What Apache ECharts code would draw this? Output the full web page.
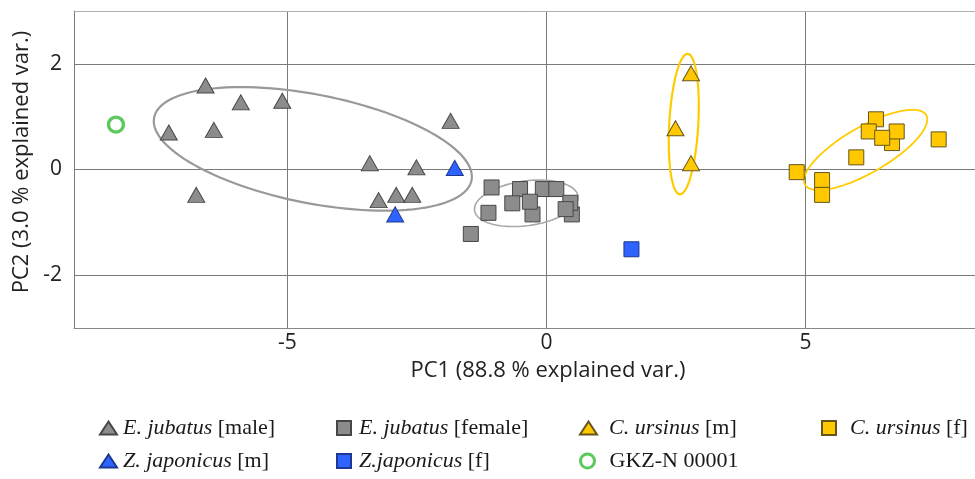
<!DOCTYPE html>
<html>
<head>
<meta charset="utf-8">
<script src="https://cdn.jsdelivr.net/npm/echarts@6/dist/echarts.min.js"></script>
<style>html,body{margin:0;padding:0;background:#fff;}#c{width:975px;height:479px;}</style>
</head>
<body>
<div id="c"></div>
<script>
// ---- data ----
const ejMaleX = [-6.58, -5.90, -5.10, -7.29, -6.42, -1.85, -6.76, -3.41, -2.51, -3.24, -2.90, -2.59];
const ejMaleY = [1.59, 1.27, 1.30, 0.70, 0.75, 0.92, -0.48, 0.12, 0.04, -0.58, -0.48, -0.48];
const ejFemaleX = [-1.06, -0.51, -0.07, 0.19, -0.27, -0.66, -0.32, -1.12, -1.46, 0.49, 0.46, 0.37];
const ejFemaleY = [-0.34, -0.37, -0.37, -0.37, -0.85, -0.64, -0.61, -0.82, -1.22, -0.85, -0.63, -0.75];
const cuMaleX = [2.79, 2.49, 2.79];
const cuMaleY = [1.82, 0.78, 0.12];
const cuFemaleX = [4.83, 5.32, 5.32, 5.98, 6.36, 6.67, 6.76, 6.22, 6.48, 7.57];
const cuFemaleY = [-0.05, -0.20, -0.48, 0.23, 0.95, 0.50, 0.72, 0.72, 0.60, 0.57];
const zjMaleX = [-1.77, -2.92];
const zjMaleY = [0.03, -0.85];
const zjFemaleX = [1.64];
const zjFemaleY = [-1.51];
const gkzX = [-8.31];
const gkzY = [0.85];
// ellipses: [centerX, centerY, halfWidthX, halfHeightY, correlation]
const ellipseEjMale = [-4.51, 0.39, 3.07, 1.17, -0.45];
const ellipseEjFemale = [-0.39, -0.64, 1.00, 0.44, 0.25];
const ellipseCuMale = [2.65, 0.86, 0.29, 1.33, 0.25];
const ellipseCuFemale = [6.16, 0.37, 1.19, 0.76, 0.76];
const xTicks = [-5, 0, 5];
const yTicks = [-2, 0, 2];

const names = {
  ejm: 'E. jubatus [male]', ejf: 'E. jubatus [female]',
  cum: 'C. ursinus [m]', cuf: 'C. ursinus [f]',
  zjm: 'Z. japonicus [m]', zjf: 'Z.japonicus [f]',
  gkz: 'GKZ-N 00001'
};

const zip = (xs, ys) => xs.map((x, i) => [x, ys[i]]);
const GRAY = '#8c8c8c', GRAYB = '#474747';
const YEL = '#ffc800', YELB = '#65551c';
const BLUE = '#2e63ff', BLUEB = '#1c3890';
const GREEN = '#5cc95c';

function ellipseSeries(params, color, width) {
  return {
    type: 'custom', silent: true, z: 1,
    data: [params],
    encode: { x: 0, y: 1 },
    renderItem: function (p, api) {
      const cx = api.value(0), cy = api.value(1), hw = api.value(2), hh = api.value(3), r = api.value(4);
      const s = Math.sqrt(1 - r * r);
      const pts = [];
      for (let k = 0; k <= 120; k++) {
        const t = k / 120 * Math.PI * 2;
        pts.push(api.coord([cx + hw * Math.cos(t), cy + hh * (r * Math.cos(t) + s * Math.sin(t))]));
      }
      return { type: 'polyline', shape: { points: pts }, style: { fill: null, stroke: color, lineWidth: width } };
    }
  };
}

const serif = 'Liberation Serif';
const legendRich = {
  i: { fontFamily: serif, fontStyle: 'italic', fontSize: 22, color: '#1a1a1a', lineHeight: 22 },
  n: { fontFamily: serif, fontSize: 22, color: '#1a1a1a', lineHeight: 22 }
};
function legendFmt(name) {
  const k = name.indexOf(' [');
  if (k < 0) return '{n|' + name + '}';
  return '{i|' + name.slice(0, k) + '}{n| ' + name.slice(k + 1) + '}';
}
function mkLegend(item, left, top, w, h, pad) {
  return {
    data: [item], orient: 'horizontal', left: left, top: top, padding: 0,
    itemWidth: w, itemHeight: h, selectedMode: false,
    formatter: legendFmt,
    textStyle: { rich: legendRich, padding: [0, 0, 0, pad] }
  };
}

const sans = 'Open Sans';
const ROW1 = 417, ROW2 = 450;
const mk = (name, symbol, size, xs, ys, fill, border) => ({
  name: name, type: 'scatter', symbol: symbol, symbolSize: size, z: 3, data: zip(xs, ys),
  itemStyle: { color: fill, borderColor: border, borderWidth: 1, opacity: 1 }
});
const option = {
  animation: false,
  grid: { left: 74, top: 11, right: -2, bottom: 151, outerBoundsMode: 'none', containLabel: false },
  xAxis: [{
    type: 'value', min: -9.12, max: 8.31, splitNumber: 4,
    axisLine: { show: true, onZero: false, lineStyle: { color: '#888', width: 1 } },
    axisTick: { show: false },
    axisLabel: { color: '#222', fontFamily: sans, fontSize: 21, margin: 5,
      formatter: v => (xTicks.some(t => Math.abs(t - v) < 1e-6) ? String(v) : '') },
    splitLine: { show: true, lineStyle: { color: '#7a7a7a', width: 1 } },
    name: 'PC1 (88.8 % explained var.)', nameLocation: 'middle', nameGap: 32,
    nameTextStyle: { color: '#222', fontFamily: sans, fontSize: 22, padding: [0, 0, 0, 45] }
  }, {
    type: 'value', position: 'top', min: -9.12, max: 8.31,
    axisLine: { show: true, onZero: false, lineStyle: { color: '#b0b0b0', width: 1 } },
    axisTick: { show: false }, axisLabel: { show: false }, splitLine: { show: false }
  }],
  yAxis: {
    type: 'value', min: -3, max: 3, splitNumber: 3,
    axisLine: { show: true, onZero: false, lineStyle: { color: '#7a7a7a', width: 1 } },
    axisTick: { show: false },
    axisLabel: { color: '#222', fontFamily: sans, fontSize: 21, margin: 12,
      formatter: v => (yTicks.some(t => Math.abs(t - v) < 1e-6) ? String(v) : '') },
    splitLine: { show: true, lineStyle: { color: '#7a7a7a', width: 1 } },
    name: 'PC2 (3.0 % explained var.)', nameLocation: 'middle', nameGap: 35,
    nameTextStyle: { color: '#222', fontFamily: sans, fontSize: 22, padding: [0, 0, 0, 15] }
  },
  legend: [
    mkLegend(names.ejm, 99, ROW1, 17, 13, 1),
    mkLegend(names.zjm, 99, ROW2, 17, 13, 1),
    mkLegend(names.ejf, 336, ROW1, 14, 14, 3),
    mkLegend(names.zjf, 336, ROW2, 14, 14, 3),
    mkLegend(names.cum, 579, ROW1, 17, 13, 7),
    mkLegend({ name: names.gkz, icon: 'circle',
      itemStyle: { color: 'rgba(255,255,255,0)', borderColor: GREEN, borderWidth: 3, opacity: 1 } },
      579, ROW2, 14, 14, 10),
    mkLegend(names.cuf, 821, ROW1, 14, 14, 9)
  ],
  series: [
    ellipseSeries(ellipseEjMale, '#999999', 2.2),
    ellipseSeries(ellipseEjFemale, '#a8a8a8', 1.6),
    ellipseSeries(ellipseCuMale, '#ffcc00', 2.2),
    ellipseSeries(ellipseCuFemale, '#ffcc00', 1.8),
    mk(names.ejf, 'rect', 15, ejFemaleX, ejFemaleY, GRAY, GRAYB),
    mk(names.ejm, 'triangle', [17, 15], ejMaleX, ejMaleY, GRAY, GRAYB),
    mk(names.cum, 'triangle', [17, 15], cuMaleX, cuMaleY, YEL, YELB),
    mk(names.cuf, 'rect', 15, cuFemaleX, cuFemaleY, YEL, YELB),
    mk(names.zjm, 'triangle', [17, 15], zjMaleX, zjMaleY, BLUE, BLUEB),
    mk(names.zjf, 'rect', 15, zjFemaleX, zjFemaleY, BLUE, BLUEB),
    { name: names.gkz, type: 'scatter', symbol: 'circle', symbolSize: 15, z: 3, data: zip(gkzX, gkzY),
      itemStyle: { color: 'rgba(255,255,255,0)', borderColor: GREEN, borderWidth: 3.4, opacity: 1 } }
  ]
};
const chart = echarts.init(document.getElementById('c'), null, { renderer: 'canvas' });
chart.setOption(option);
</script>
</body>
</html>
